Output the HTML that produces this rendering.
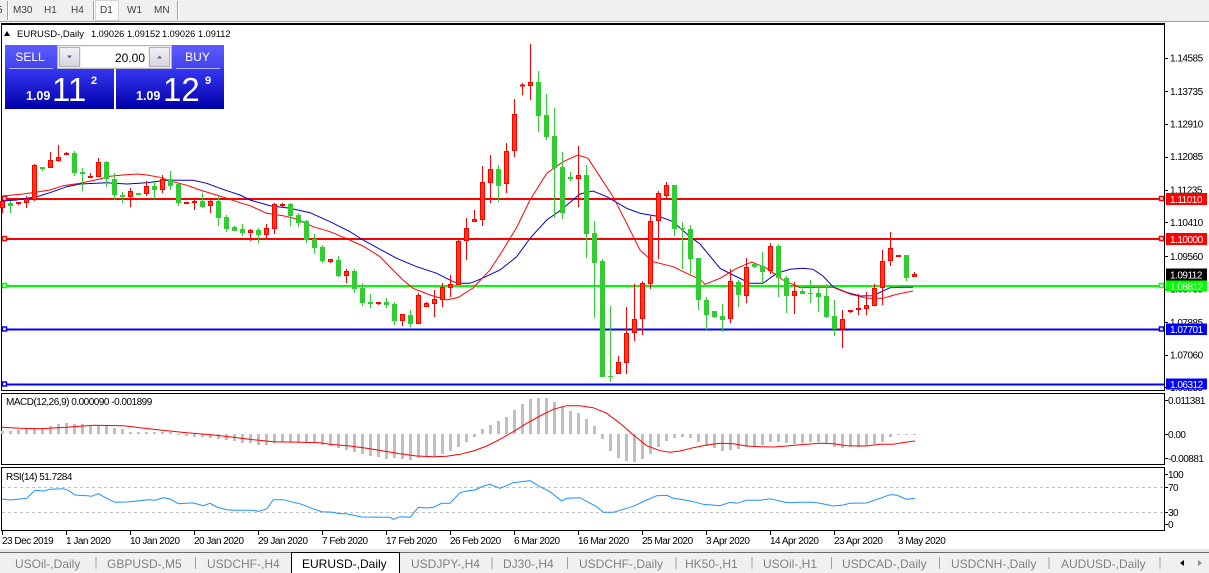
<!DOCTYPE html>
<html><head><meta charset="utf-8"><style>
html,body{margin:0;padding:0;background:#fff;}
body{width:1209px;height:573px;overflow:hidden;}
svg{display:block;font-family:"Liberation Sans",Arial,sans-serif;}
.ax{font-size:10px;letter-spacing:-0.5px;fill:#000;}
.wt{font-size:10px;letter-spacing:-0.5px;fill:#fff;}
.dt{font-size:10px;letter-spacing:-0.5px;fill:#000;}
.tb{font-size:12px;fill:#808080;}
.tl{font-size:10px;fill:#404040;}
</style></head><body>
<svg width="1209" height="573" viewBox="0 0 1209 573" xmlns="http://www.w3.org/2000/svg">
<defs>
<linearGradient id="q" x1="0" y1="0" x2="0" y2="1"><stop offset="0" stop-color="#3636F2"/><stop offset="1" stop-color="#0000A8"/></linearGradient>
<linearGradient id="b" x1="0" y1="0" x2="0" y2="1"><stop offset="0" stop-color="#5C5CFF"/><stop offset="1" stop-color="#4242EC"/></linearGradient>
<linearGradient id="g" x1="0" y1="0" x2="0" y2="1"><stop offset="0" stop-color="#F2F2F6"/><stop offset="1" stop-color="#D4D4DC"/></linearGradient>
</defs>
<rect x="0" y="0" width="1209" height="573" fill="#fff"/>
<!-- toolbar -->
<rect x="0" y="0" width="1209" height="21" fill="#F0F0F0"/>
<line x1="0" y1="21.5" x2="1209" y2="21.5" stroke="#A0A0A0"/>
<text x="-3" y="13" class="tl">5</text>
<line x1="7.5" y1="1" x2="7.5" y2="20" stroke="#A0A0A0"/><line x1="8.5" y1="1" x2="8.5" y2="20" stroke="#fff"/>
<text x="13" y="13" class="tl">M30</text>
<text x="44" y="13" class="tl">H1</text>
<text x="71" y="13" class="tl">H4</text>
<line x1="93.5" y1="1" x2="93.5" y2="20" stroke="#A0A0A0"/><line x1="94.5" y1="1" x2="94.5" y2="20" stroke="#fff"/>
<rect x="95.5" y="0.5" width="23" height="20" fill="#FAFAFA" stroke="#D6D6D6"/>
<text x="100" y="13" class="tl">D1</text>
<text x="127" y="13" class="tl" fill="#606060">W1</text>
<text x="154" y="13" class="tl" fill="#606060">MN</text>
<line x1="177.5" y1="1" x2="177.5" y2="20" stroke="#A0A0A0"/><line x1="178.5" y1="1" x2="178.5" y2="20" stroke="#fff"/>

<!-- panel frames -->
<line x1="1" y1="24" x2="1165" y2="24" stroke="#000" stroke-width="2"/>
<rect x="1.5" y="24.5" width="1163" height="366" fill="none" stroke="#000"/>
<rect x="1.5" y="393.5" width="1163" height="71" fill="none" stroke="#000"/>
<rect x="1.5" y="467.5" width="1163" height="63" fill="none" stroke="#000"/>

<!-- price axis ticks and labels -->
<g stroke="#000">
<path d="M1164 58.5H1168M1164 91.5H1168M1164 124.5H1168M1164 157.5H1168M1164 190.5H1168M1164 222.5H1168M1164 256.5H1168M1164 289.5H1168M1164 322.5H1168M1164 355.5H1168M1164 387.5H1168"/>
<path d="M1164 400.5H1168M1164 434.5H1168M1164 458.5H1168M1164 474.5H1168M1164 487.5H1168M1164 512.5H1168M1164 524.5H1168"/>
</g>
<text x="1170" y="61.5" class="ax">1.14585</text>
<text x="1170" y="95" class="ax">1.13735</text>
<text x="1170" y="127.5" class="ax">1.12910</text>
<text x="1170" y="160" class="ax">1.12085</text>
<text x="1170" y="193.5" class="ax">1.11235</text>
<text x="1170" y="226" class="ax">1.10410</text>
<text x="1170" y="260" class="ax">1.09560</text>
<text x="1170" y="292.5" class="ax">1.08735</text>
<text x="1170" y="326" class="ax">1.07885</text>
<text x="1170" y="358.5" class="ax">1.07060</text>
<text x="1170" y="391" class="ax">1.06235</text>

<!-- horizontal level lines -->
<g stroke-width="2" fill="none">
<line x1="2" y1="199" x2="1162" y2="199" stroke="#FF0000"/>
<line x1="2" y1="239" x2="1162" y2="239" stroke="#FF0000"/>
<line x1="2" y1="286" x2="1162" y2="286" stroke="#00FF00"/>
<line x1="2" y1="329.5" x2="1162" y2="329.5" stroke="#0000FF"/>
<line x1="2" y1="384.5" x2="1164" y2="384.5" stroke="#0000FF"/>
</g>
<g fill="#fff" stroke-width="1.5">
<rect x="2.5" y="196.5" width="4" height="4" stroke="#FF0000"/><rect x="1159.5" y="196.5" width="4" height="4" stroke="#FF0000"/>
<rect x="2.5" y="236.5" width="4" height="4" stroke="#FF0000"/><rect x="1159.5" y="236.5" width="4" height="4" stroke="#FF0000"/>
<rect x="2.5" y="283.5" width="4" height="4" stroke="#00FF00"/><rect x="1159.5" y="283.5" width="4" height="4" stroke="#00FF00"/>
<rect x="2.5" y="327" width="4" height="4" stroke="#0000FF"/><rect x="1159.5" y="327" width="4" height="4" stroke="#0000FF"/>
<rect x="2.5" y="382" width="4" height="4" stroke="#0000FF"/>
</g>
<!-- label boxes -->
<rect x="1166" y="193" width="41" height="12" fill="#FF0000"/><text x="1170" y="203" class="wt">1.11010</text>
<rect x="1166" y="233" width="41" height="12" fill="#FF0000"/><text x="1170" y="243" class="wt">1.10000</text>
<rect x="1166" y="268.5" width="41" height="12" fill="#000"/><text x="1170" y="278.5" class="wt">1.09112</text>
<rect x="1166" y="280.5" width="41" height="11" fill="#00FF00"/><text x="1170" y="290" class="wt">1.08812</text>
<rect x="1166" y="323.5" width="41" height="11.5" fill="#0000FF"/><text x="1170" y="333" class="wt">1.07701</text>
<rect x="1166" y="378.5" width="41" height="11" fill="#0000FF"/><text x="1170" y="388" class="wt">1.06312</text>

<!-- moving averages -->
<polyline fill="none" stroke="#0000CD" stroke-width="1" points="2,201 16.7,200 36.7,196.7 50,192.7 66.7,186.7 80,184 106.7,182.7 126.7,184 146.7,182.7 166.7,180.3 193,180.3 206.7,183.3 220,188.3 230,191.7 240,195 250,200 270,205.7 290,208.3 310,212.7 330,221.7 350,231.7 363,240 380,249.3 396.7,258.3 416.7,266.7 436.7,273.3 453,281.7 460,283.3 470,283.3 480,279.3 500,270 516.7,256.7 530,238.3 546.7,220 560,210.7 580,194 593,191 606.7,196.7 626.7,208.3 640,213.3 660,216.7 673,221.7 690,236.7 700,244 720,268.3 733,275 750,283.3 763,283.3 776.7,273.3 790,269.3 803,268.3 813,269.3 823,276 833,286.7 846.7,292.3 860,296 873,295.7 890,287.7 903,287.3 913,287.3"/>
<polyline fill="none" stroke="#FF0000" stroke-width="1" points="2,196 5,195.7 23,194 37,192 50,190 63,185.7 80,183.3 100,179 110,176.3 123,175 137,174 147,175 160,177.3 173,181.7 187,185.3 200,190 213,194 227,198.3 240,202.7 250,205.7 266.7,213.3 283,215.7 296.7,219 313,226.7 330,231.7 346.7,238.7 363,246 380,256.7 393,270 403,280 413,288.3 430,295 446.7,300 458,297.5 473,288 490,270 503,250 517,226.7 530,200 546.7,173.3 563,161.7 578,155 588,158.3 600,176.7 613,196.7 626.7,223.3 640,250 653,261.7 673,266.7 686.7,273.3 700,279.3 705,284.3 720,278.3 736.7,268.3 751.7,262 766.7,268.3 783,280 800,287.7 816.7,287.3 833,287.3 850,294 866.7,298.3 883,298.3 896.7,294.3 913,291"/>

<!-- candles: wicks -->
<path fill="none" stroke="#FF0000" stroke-width="1" d="M2.5 200V213M18.5 202V205M26.5 196V208M34.5 164V201M50.5 152V168M58.5 145V162M66.5 152V155M90.5 173V177M98.5 158V177M130.5 188V207M146.5 181V196M162.5 175V193M186.5 202V204M194.5 199V210M210.5 199V213M250.5 229V241M266.5 224V239M274.5 203V234M282.5 203V207M330.5 259V263M346.5 269V283M378.5 302V305M402.5 314V326M418.5 293V324M426.5 302V307M434.5 290V317M442.5 283V307M450.5 275V297M458.5 238V285M466.5 218V260M474.5 210V222M482.5 166V226M490.5 155V203M506.5 143V193M514.5 99V157M522.5 83V95M530.5 44V100M578.5 146V207M618.5 356V374M626.5 307V374M634.5 284V341M642.5 281V335M650.5 216V289M658.5 191V259M666.5 182V198M730.5 269V323M746.5 258V303M770.5 243V274M794.5 282V314M842.5 310V348M850.5 310V313M858.5 294V315M866.5 292V315M874.5 284V306M882.5 250V305M890.5 232V266M898.5 255V257M914.5 272V277"/>
<path fill="none" stroke="#32CD32" stroke-width="1" d="M10.5 201V213M42.5 167V171M74.5 151V176M82.5 168V191M106.5 161V187M114.5 173V200M122.5 192V203M138.5 193V195M154.5 182V199M170.5 171V190M178.5 183V206M202.5 193V208M218.5 196V226M226.5 215V232M234.5 226V231M242.5 224V236M258.5 228V243M290.5 203V226M298.5 213V227M306.5 220V243M314.5 234V254M322.5 245V263M338.5 256V277M354.5 269V293M362.5 283V306M370.5 294V308M386.5 298V308M394.5 302V325M410.5 310V327M498.5 165V202M538.5 71V132M546.5 94V140M554.5 108V218M562.5 152V219M570.5 172V181M586.5 165V258M594.5 221V318M602.5 259V377M610.5 306V382M674.5 185V236M682.5 222V269M690.5 225V274M698.5 258V310M706.5 297V330M714.5 311V318M722.5 304V332M738.5 280V307M754.5 264V268M762.5 252V283M778.5 244V297M786.5 276V313M802.5 289V294M810.5 280V303M818.5 286V312M826.5 284V318M834.5 300V336M906.5 255V281"/>
<!-- green bodies -->
<g fill="#32CD32">
<rect x="8" y="203" width="5" height="3"/><rect x="40" y="167" width="5" height="2"/><rect x="72" y="153" width="5" height="20"/><rect x="80" y="172" width="5" height="2"/><rect x="104" y="162" width="5" height="17"/><rect x="112" y="179" width="5" height="16"/><rect x="120" y="195" width="5" height="2"/><rect x="136" y="193" width="5" height="2"/><rect x="152" y="186" width="5" height="4"/><rect x="168" y="179" width="5" height="7"/><rect x="176" y="184" width="5" height="19"/><rect x="200" y="201" width="5" height="6"/><rect x="216" y="201" width="5" height="17"/><rect x="224" y="217" width="5" height="12"/><rect x="232" y="227" width="5" height="4"/><rect x="240" y="229" width="5" height="4"/><rect x="256" y="230" width="5" height="5"/><rect x="288" y="204" width="5" height="12"/><rect x="296" y="215" width="5" height="8"/><rect x="304" y="221" width="5" height="19"/><rect x="312" y="239" width="5" height="9"/><rect x="320" y="247" width="5" height="14"/><rect x="336" y="260" width="5" height="16"/><rect x="352" y="271" width="5" height="18"/><rect x="360" y="288" width="5" height="15"/><rect x="368" y="302" width="5" height="2"/><rect x="384" y="302" width="5" height="3"/><rect x="392" y="304" width="5" height="17"/><rect x="408" y="315" width="5" height="9"/><rect x="496" y="169" width="5" height="17"/><rect x="536" y="82" width="5" height="34"/><rect x="544" y="115" width="5" height="22"/><rect x="552" y="136" width="5" height="32"/><rect x="560" y="167" width="5" height="46"/><rect x="568" y="177" width="5" height="2"/><rect x="584" y="175" width="5" height="59"/><rect x="592" y="233" width="5" height="30"/><rect x="600" y="261" width="5" height="116"/><rect x="608" y="376" width="5" height="1"/><rect x="672" y="185" width="5" height="44"/><rect x="680" y="228" width="5" height="1"/><rect x="688" y="229" width="5" height="30"/><rect x="696" y="258" width="5" height="42"/><rect x="704" y="300" width="5" height="15"/><rect x="712" y="311" width="5" height="6"/><rect x="720" y="316" width="5" height="4"/><rect x="736" y="282" width="5" height="13"/><rect x="752" y="264" width="5" height="3"/><rect x="760" y="266" width="5" height="6"/><rect x="776" y="246" width="5" height="32"/><rect x="784" y="278" width="5" height="18"/><rect x="800" y="291" width="5" height="3"/><rect x="808" y="293" width="5" height="1"/><rect x="816" y="293" width="5" height="4"/><rect x="824" y="296" width="5" height="21"/><rect x="832" y="316" width="5" height="13"/><rect x="904" y="255" width="5" height="23"/>
</g>
<!-- red bodies -->
<g fill="#FF3C14" stroke="#FF0000" stroke-width="1">
<rect x="0.5" y="201.5" width="4" height="6"/><rect x="16.5" y="202.5" width="4" height="1"/><rect x="24.5" y="199.5" width="4" height="3"/><rect x="32.5" y="165.5" width="4" height="34"/><rect x="48.5" y="160.5" width="4" height="7"/><rect x="56.5" y="157.5" width="4" height="3"/><rect x="64.5" y="153.5" width="4" height="1"/><rect x="88.5" y="176.5" width="4" height="1"/><rect x="96.5" y="162.5" width="4" height="14"/><rect x="128.5" y="191.5" width="4" height="5"/><rect x="144.5" y="186.5" width="4" height="7"/><rect x="160.5" y="179.5" width="4" height="10"/><rect x="184.5" y="202.5" width="4" height="1"/><rect x="192.5" y="201.5" width="4" height="1"/><rect x="208.5" y="201.5" width="4" height="4"/><rect x="248.5" y="230.5" width="4" height="2"/><rect x="264.5" y="228.5" width="4" height="6"/><rect x="272.5" y="204.5" width="4" height="24"/><rect x="280.5" y="204.5" width="4" height="1"/><rect x="328.5" y="259.5" width="4" height="2"/><rect x="344.5" y="271.5" width="4" height="4"/><rect x="376.5" y="302.5" width="4" height="1"/><rect x="400.5" y="314.5" width="4" height="6"/><rect x="416.5" y="295.5" width="4" height="28"/><rect x="424.5" y="303.5" width="4" height="3"/><rect x="432.5" y="299.5" width="4" height="4"/><rect x="440.5" y="287.5" width="4" height="12"/><rect x="448.5" y="284.5" width="4" height="3"/><rect x="456.5" y="241.5" width="4" height="43"/><rect x="464.5" y="228.5" width="4" height="12"/><rect x="472.5" y="219.5" width="4" height="2"/><rect x="480.5" y="182.5" width="4" height="37"/><rect x="488.5" y="169.5" width="4" height="13"/><rect x="504.5" y="151.5" width="4" height="32"/><rect x="512.5" y="114.5" width="4" height="36"/><rect x="520.5" y="85" width="4" height="1"/><rect x="528.5" y="82.5" width="4" height="3"/><rect x="576.5" y="175.5" width="4" height="3"/><rect x="616.5" y="362.5" width="4" height="11"/><rect x="624.5" y="333.5" width="4" height="29"/><rect x="632.5" y="319.5" width="4" height="13"/><rect x="640.5" y="283.5" width="4" height="35"/><rect x="648.5" y="221.5" width="4" height="62"/><rect x="656.5" y="193.5" width="4" height="27"/><rect x="664.5" y="185.5" width="4" height="10"/><rect x="728.5" y="281.5" width="4" height="37"/><rect x="744.5" y="267.5" width="4" height="28"/><rect x="768.5" y="246.5" width="4" height="24"/><rect x="792.5" y="291.5" width="4" height="4"/><rect x="840.5" y="319.5" width="4" height="9"/><rect x="848.5" y="310.5" width="4" height="1"/><rect x="856.5" y="308.5" width="4" height="1"/><rect x="864.5" y="305.5" width="4" height="3"/><rect x="872.5" y="288.5" width="4" height="17"/><rect x="880.5" y="261.5" width="4" height="26"/><rect x="888.5" y="248.5" width="4" height="12"/><rect x="896.5" y="255.5" width="4" height="1"/><rect x="912.5" y="274.5" width="4" height="2"/>
</g>

<!-- header text -->
<polygon points="4,36 10,36 7,31" fill="#000"/>
<text x="17" y="37" font-size="9.5" fill="#000">EURUSD-,Daily</text>
<text x="91" y="37" font-size="9.2" fill="#000">1.09026</text>
<text x="127" y="37" font-size="9.2" fill="#000">1.09152</text>
<text x="162" y="37" font-size="9.2" fill="#000">1.09026</text>
<text x="198" y="37" font-size="9.2" fill="#000">1.09112</text>

<!-- trade panel -->
<rect x="5" y="45" width="52" height="24" fill="url(#b)"/>
<rect x="172" y="45" width="52" height="24" fill="url(#b)"/>
<line x1="9" y1="68.5" x2="53" y2="68.5" stroke="#B8B8FF"/>
<line x1="176" y1="68.5" x2="220" y2="68.5" stroke="#B8B8FF"/>
<text x="30" y="61" font-size="12" fill="#fff" text-anchor="middle">SELL</text>
<text x="197.5" y="61" font-size="12" fill="#fff" text-anchor="middle">BUY</text>
<rect x="57.5" y="45.5" width="114" height="23" fill="#EDEDED" stroke="#B4B4B4"/>
<rect x="59.5" y="47.5" width="20" height="19" fill="url(#g)" stroke="#B0B0B8"/>
<polygon points="67,55.5 72,55.5 69.5,58.5" fill="#6060A8"/>
<rect x="81" y="47" width="67" height="20" fill="#fff"/>
<text x="145" y="62" font-size="12" fill="#000" text-anchor="end">20.00</text>
<rect x="149.5" y="47.5" width="20" height="19" fill="url(#g)" stroke="#B0B0B8"/>
<polygon points="157,58.5 162,58.5 159.5,55.5" fill="#6060A8"/>
<rect x="5" y="69" width="109" height="40" fill="url(#q)"/>
<rect x="116" y="69" width="108" height="40" fill="url(#q)"/>
<text x="26" y="100" font-size="12.5" font-weight="bold" fill="#fff">1.09</text>
<text x="52" y="101" font-size="33" fill="#fff">11</text>
<text x="91" y="84" font-size="11" font-weight="bold" fill="#fff">2</text>
<text x="136" y="100" font-size="12.5" font-weight="bold" fill="#fff">1.09</text>
<text x="163" y="101" font-size="33" fill="#fff">12</text>
<text x="205" y="84" font-size="11" font-weight="bold" fill="#fff">9</text>

<!-- MACD -->
<path fill="none" stroke="#C0C0C0" stroke-width="3" d="M2.5 431V434M10.5 431V434M18.5 430V434M26.5 429V434M34.5 428V434M42.5 428V434M50.5 426V434M58.5 424V434M66.5 423V434M74.5 424V434M82.5 424V434M90.5 425V434M98.5 425V434M106.5 426V434M114.5 428V434M122.5 429V434M130.5 432V434M138.5 432V434M146.5 432V434M154.5 432V434M162.5 432V434M170.5 432V434M178.5 434V435M186.5 434V436M194.5 434V437M202.5 434V437M210.5 434V438M218.5 434V439M226.5 434V440M234.5 434V441M242.5 434V443M250.5 434V443M258.5 434V445M266.5 434V445M274.5 434V443M282.5 434V442M290.5 434V442M298.5 434V442M306.5 434V442M314.5 434V443M322.5 434V445M330.5 434V446M338.5 434V448M346.5 434V450M354.5 434V452M362.5 434V454M370.5 434V456M378.5 434V457M386.5 434V459M394.5 434V458M402.5 434V459M410.5 434V460M418.5 434V458M426.5 434V457M434.5 434V456M442.5 434V454M450.5 434V451M458.5 434V447M466.5 434V442M474.5 434V437M482.5 429V434M490.5 425V434M498.5 421V434M506.5 417V434M514.5 410V434M522.5 404V434M530.5 399V434M538.5 398V434M546.5 398V434M554.5 402V434M562.5 406V434M570.5 411V434M578.5 413V434M586.5 419V434M594.5 426V434M602.5 434V439M610.5 434V451M618.5 434V458M626.5 434V461M634.5 434V462M642.5 434V459M650.5 434V454M658.5 434V447M666.5 434V441M674.5 434V438M682.5 434V437M690.5 434V438M698.5 434V442M706.5 434V446M714.5 434V448M722.5 434V451M730.5 434V450M738.5 434V449M746.5 434V447M754.5 434V446M762.5 434V445M770.5 434V442M778.5 434V442M786.5 434V443M794.5 434V444M802.5 434V443M810.5 434V442M818.5 434V442M826.5 434V444M834.5 434V447M842.5 434V448M850.5 434V447M858.5 434V447M866.5 434V446M874.5 434V444M882.5 434V442M890.5 434V437M898.5 434V435M906.5 434V435M914.5 434V435"/>
<polyline fill="none" stroke="#FF0000" stroke-width="1" points="2,427.3 20,428.3 40,428.7 66.7,427.3 93.3,425.3 123.3,425.7 140,427.7 160,430 186.7,432.7 213.3,435 233.3,437.3 253.3,439.7 273.3,441.7 300,442.3 320,442.7 330,444.3 350,446 366.7,448.3 383.3,451 400,453.7 416.7,456 433.3,456.7 446.7,456.3 460,454.3 473.3,451 486.7,446 500,439.3 513.3,431.7 526.7,423.3 540,416 553.3,409.3 566.7,405.7 580,405.7 593.3,407.7 606.7,413.3 620,423.3 633.3,435 646.7,445.7 660,450.7 670,452.3 680,451 693.3,447.7 706.7,445 720,443.3 733.3,443.7 746.7,446 760,446.7 773.3,447 786.7,446 800,444.7 820,443.3 833.3,443.7 846.7,445.7 866.7,446 880,444.3 893.3,444.3 906.7,442 915,441"/>
<text x="6" y="405" class="dt">MACD(12,26,9) 0.000090 -0.001899</text>
<text x="1168" y="404" class="ax">0.011381</text>
<text x="1168" y="438" class="ax">0.00</text>
<text x="1168" y="462" class="ax">-0.00881</text>

<!-- RSI -->
<g stroke="#C0C0C0" stroke-dasharray="3,3">
<line x1="2" y1="487.5" x2="1164" y2="487.5"/>
<line x1="2" y1="512.5" x2="1164" y2="512.5"/>
</g>
<polyline fill="none" stroke="#1E90FF" stroke-width="1" points="2,499 10,500 20,499 26.7,498.3 35,490.3 43.3,491 50,489.3 63.3,488.7 68.3,490.3 75,495 86.7,495.7 91.7,496.3 98.3,493.7 106.7,498.3 115,502.3 126.7,502 140,500.7 148.3,499.7 155,500.3 163.3,497.7 170,499 178.3,503.7 190,503 193.3,503 203.3,505.7 210,503.3 216.7,507 226.7,509.7 233.3,510.3 253.3,510.3 258.3,511.3 266.7,509 273.3,499.7 283.3,499.7 293.3,502.3 301.7,504.3 311.7,508.3 321.7,511.7 333.3,512.3 340,513.7 346.7,513.7 361.7,517 390,517.3 393.3,519.3 400,516.7 410,517.3 418.3,507.3 426.7,508 433.3,507.3 441.7,503.3 450,503.3 460,492.7 466.7,491 475,490 483.3,486 490,484.3 500,488.3 513.3,482.7 526.7,481 530,480.7 540,486.7 550,491.7 561.7,501 566.7,498.3 580,497.7 588.3,502.3 596.7,506.7 603.3,512.3 613.3,512.3 626.7,508.3 633.3,506.3 646.7,500 656.7,495.7 666.7,495.3 673.3,498.3 683.3,499.7 693.3,501.7 703.3,504.3 720,505.7 730,502.3 736.7,503.3 746.7,500.3 760,500.3 770,498.7 783.3,502 790,502.7 800,502.3 813.3,502.3 820,503.3 833.3,506 843.3,505 850,503.3 866.7,503 880,498.3 890,494.7 896.7,495 906.7,499.3 915,498.3"/>
<text x="6" y="480" class="dt">RSI(14) 51.7284</text>
<text x="1168" y="478" class="ax">100</text>
<text x="1168" y="491" class="ax">70</text>
<text x="1168" y="516" class="ax">30</text>
<text x="1168" y="528" class="ax">0</text>

<!-- date axis -->
<path stroke="#000" d="M2.5 531V535M66.5 531V535M130.5 531V535M194.5 531V535M258.5 531V535M322.5 531V535M386.5 531V535M450.5 531V535M514.5 531V535M578.5 531V535M642.5 531V535M706.5 531V535M770.5 531V535M834.5 531V535M898.5 531V535"/>
<text x="2" y="544" class="dt">23 Dec 2019</text>
<text x="66" y="544" class="dt">1 Jan 2020</text>
<text x="130" y="544" class="dt">10 Jan 2020</text>
<text x="194" y="544" class="dt">20 Jan 2020</text>
<text x="258" y="544" class="dt">29 Jan 2020</text>
<text x="322" y="544" class="dt">7 Feb 2020</text>
<text x="386" y="544" class="dt">17 Feb 2020</text>
<text x="450" y="544" class="dt">26 Feb 2020</text>
<text x="514" y="544" class="dt">6 Mar 2020</text>
<text x="578" y="544" class="dt">16 Mar 2020</text>
<text x="642" y="544" class="dt">25 Mar 2020</text>
<text x="706" y="544" class="dt">3 Apr 2020</text>
<text x="770" y="544" class="dt">14 Apr 2020</text>
<text x="834" y="544" class="dt">23 Apr 2020</text>
<text x="898" y="544" class="dt">3 May 2020</text>

<!-- tab bar -->
<rect x="0" y="549" width="1209" height="3" fill="#E6E6E6"/>
<rect x="0" y="552" width="1209" height="21" fill="#F0F0F0"/>
<line x1="0" y1="552.5" x2="1209" y2="552.5" stroke="#6E6E6E"/>
<rect x="292" y="553" width="107" height="20" fill="#fff"/>
<path d="M291.5 573V552.5H399.5V573" fill="none" stroke="#000"/>
<g stroke="#A0A0A0">
<path d="M96 557V569M195.5 557V569M492 557V569M567.5 557V569M676 557V569M752 557V569M831.5 557V569M939.5 557V569M1049 557V569M1160 557V569"/>
</g>
<text x="15" y="568" class="tb">USOil-,Daily</text>
<text x="107" y="568" class="tb">GBPUSD-,M5</text>
<text x="207" y="568" class="tb">USDCHF-,H4</text>
<text x="302" y="568" font-size="12" fill="#000">EURUSD-,Daily</text>
<text x="411" y="568" class="tb">USDJPY-,H4</text>
<text x="503" y="568" class="tb">DJ30-,H4</text>
<text x="579" y="568" class="tb">USDCHF-,Daily</text>
<text x="685" y="568" class="tb">HK50-,H1</text>
<text x="763" y="568" class="tb">USOil-,H1</text>
<text x="842" y="568" class="tb">USDCAD-,Daily</text>
<text x="951" y="568" class="tb">USDCNH-,Daily</text>
<text x="1061" y="568" class="tb">AUDUSD-,Daily</text>
<polygon points="1180,563 1184,560 1184,566" fill="#000"/>
<polygon points="1202,563 1198,560 1198,566" fill="#909090"/>
</svg>
</body></html>
